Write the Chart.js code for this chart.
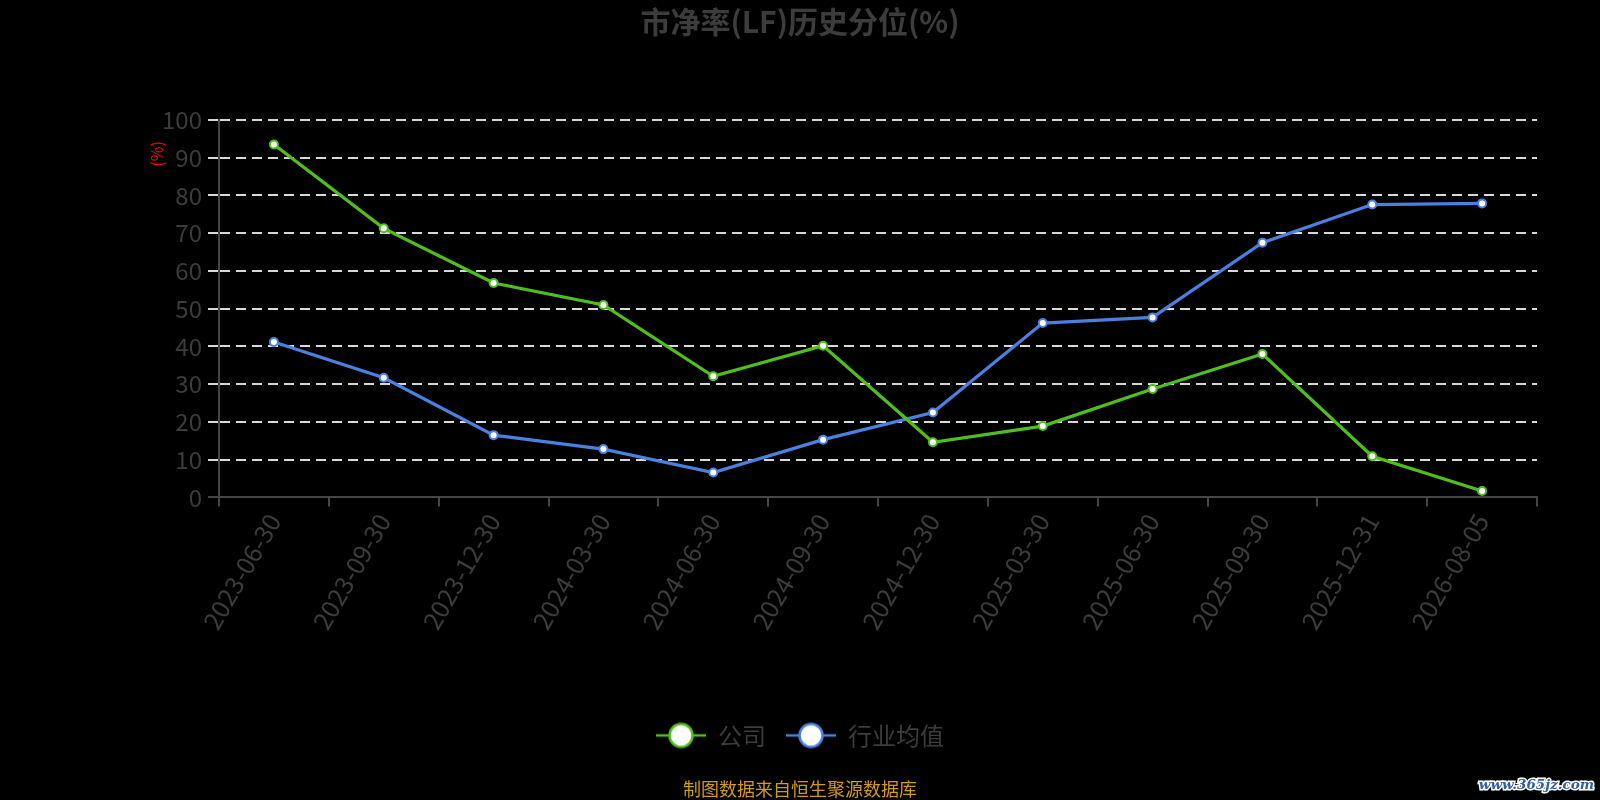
<!DOCTYPE html>
<html>
<head>
<meta charset="utf-8">
<script src="https://cdn.jsdelivr.net/npm/chart.js@4/dist/chart.umd.min.js"></script>
<style>
html,body{margin:0;padding:0;background:#000;}
#wrap{width:1600px;height:800px;}
</style>
</head>
<body>
<div id="wrap"><canvas id="c" width="1600" height="800"></canvas></div>
<script>
const categories = ['2023-06-30','2023-09-30','2023-12-30','2024-03-30','2024-06-30','2024-09-30','2024-12-30','2025-03-30','2025-06-30','2025-09-30','2025-12-31','2026-08-05'];
const companyValues  = [93.5, 71.3, 56.8, 51.0, 32.1, 40.2, 14.6, 18.9, 28.7, 38.0, 10.9, 1.7];
const industryValues = [41.2, 31.7, 16.5, 12.8, 6.6, 15.3, 22.5, 46.2, 47.7, 67.5, 77.6, 77.9];
const seriesNames = ['公司', '行业均值'];
const yMin = 0, yMax = 100, yStep = 10;

const GREEN = '#4fbf1c';
const BLUE = '#4a80e0';
const FONT = '"Noto Sans CJK SC", "Noto Sans", sans-serif';

function makeIcon(color) {
  const c = document.createElement('canvas');
  c.width = 50; c.height = 28;
  const g = c.getContext('2d');
  g.strokeStyle = color; g.lineWidth = 2.5;
  g.beginPath(); g.moveTo(0, 14); g.lineTo(50, 14); g.stroke();
  g.beginPath(); g.arc(25, 14, 11.5, 0, Math.PI * 2);
  g.fillStyle = '#fff'; g.fill();
  g.lineWidth = 2.5; g.stroke();
  return c;
}
const icons = [makeIcon(GREEN), makeIcon(BLUE)];

const extraText = {
  id: 'extraText',
  afterDraw(chart) {
    const ctx = chart.ctx;
    const ys = chart.scales.y;
    ctx.save();
    ctx.translate(ys.right - 62, ys.getPixelForValue(91));
    ctx.rotate(-Math.PI / 2);
    ctx.fillStyle = '#ff0000';
    ctx.font = '16px ' + FONT;
    ctx.textAlign = 'center';
    ctx.textBaseline = 'middle';
    ctx.fillText('(%)', 0, 0);
    ctx.restore();

    ctx.save();
    ctx.font = 'italic bold 13.5px "DejaVu Serif", serif';
    ctx.textAlign = 'right';
    ctx.textBaseline = 'middle';
    ctx.lineWidth = 3;
    ctx.strokeStyle = '#ffffff';
    ctx.strokeText('www.365jz.com', 1594, 785);
    ctx.fillStyle = '#2f5da8';
    ctx.fillText('www.365jz.com', 1594, 785);
    ctx.restore();
  }
};

new Chart(document.getElementById('c'), {
  type: 'line',
  data: {
    labels: categories,
    datasets: [
      {
        label: seriesNames[0],
        data: companyValues,
        borderColor: GREEN,
        backgroundColor: GREEN,
        borderWidth: 3.2,
        pointRadius: 4,
        pointBorderWidth: 2,
        pointBackgroundColor: '#fff',
        pointBorderColor: GREEN,
        tension: 0
      },
      {
        label: seriesNames[1],
        data: industryValues,
        borderColor: BLUE,
        backgroundColor: BLUE,
        borderWidth: 3.2,
        pointRadius: 4,
        pointBorderWidth: 2,
        pointBackgroundColor: '#fff',
        pointBorderColor: BLUE,
        tension: 0
      }
    ]
  },
  options: {
    responsive: false,
    animation: false,
    devicePixelRatio: 1,
    layout: { padding: { left: 63, right: 63, top: 0, bottom: 0 } },
    plugins: {
      tooltip: { enabled: false },
      title: {
        display: true,
        text: '市净率(LF)历史分位(%)',
        color: '#3c3c3c',
        font: { family: FONT, size: 30, weight: 'bold' },
        padding: { top: 4, bottom: 80 }
      },
      subtitle: {
        display: true,
        position: 'bottom',
        text: '制图数据来自恒生聚源数据库',
        color: '#d09a1e',
        font: { family: FONT, size: 18 },
        padding: { top: 21, bottom: 0 }
      },
      legend: {
        position: 'bottom',
        labels: {
          usePointStyle: true,
          pointStyleWidth: 50,
          padding: 20,
          color: '#3c3c3c',
          font: { family: FONT, size: 24 },
          generateLabels(chart) {
            const items = Chart.defaults.plugins.legend.labels.generateLabels(chart);
            items.forEach((it, i) => { it.pointStyle = icons[i]; it.fontColor = '#3c3c3c'; });
            return items;
          }
        }
      }
    },
    scales: {
      x: {
        type: 'category',
        offset: true,
        afterFit(s) { s.height = 206; },
        grid: {
          offset: true,
          drawOnChartArea: false,
          drawTicks: true,
          tickLength: 9,
          color: '#454545',
          lineWidth: 2
        },
        border: { display: true, color: '#454545', width: 2 },
        ticks: {
          autoSkip: false,
          maxRotation: 60,
          minRotation: 60,
          padding: 2,
          color: '#3c3c3c',
          font: { family: FONT, size: 25 }
        }
      },
      y: {
        min: yMin,
        max: yMax,
        afterFit(s) { s.width = 156; },
        grid: {
          color: (c) => (c.tick && c.tick.value === 0) ? '#454545' : '#d8d8d8',
          lineWidth: 2,
          tickLength: 11,
          tickColor: (c) => (c.tick && c.tick.value === 0) ? '#454545' : '#d8d8d8',
          tickBorderDash: (c) => (c.tick && c.tick.value === 0) ? [] : [10, 6]
        },
        border: {
          display: true,
          color: '#454545',
          width: 2,
          dash: (c) => (c.tick && c.tick.value === 0) ? [] : [10, 6]
        },
        ticks: {
          stepSize: yStep,
          padding: 6,
          color: '#3c3c3c',
          font: { family: FONT, size: 24 }
        }
      }
    }
  },
  plugins: [extraText]
});
</script>
</body>
</html>
